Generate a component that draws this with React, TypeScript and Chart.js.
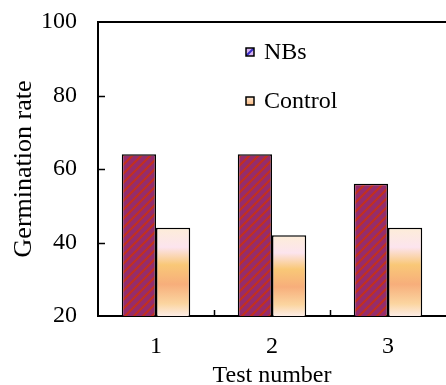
import React, { useEffect, useRef } from 'react';
import { Chart, registerables } from 'chart.js';

Chart.register(...registerables);

const categories = ['1', '2', '3'];
const nbsValues = [64, 64, 56];
const controlValues = [44, 42, 44];
const seriesLabels = ['NBs', 'Control'];
const yMin = 20;
const yMax = 100;
const yStep = 20;
const xTitle = 'Test number';
const yTitle = 'Germination rate';

const FONT = "'Liberation Serif', 'Times New Roman', serif";
const FS = 24;

function makeStripePattern(bg: string, fg: string, size: number, lw: number): CanvasPattern | string {
  const c = document.createElement('canvas');
  c.width = size;
  c.height = size;
  const x = c.getContext('2d');
  if (!x) return bg;
  x.fillStyle = bg;
  x.fillRect(0, 0, size, size);
  x.strokeStyle = fg;
  x.lineWidth = lw;
  x.beginPath();
  x.moveTo(-size / 2, size / 2);
  x.lineTo(size / 2, -size / 2);
  x.moveTo(0, size);
  x.lineTo(size, 0);
  x.moveTo(size / 2, size * 1.5);
  x.lineTo(size * 1.5, size / 2);
  x.stroke();
  const p = x.createPattern(c, 'repeat');
  return p || bg;
}

const gradStops: [number, string][] = [
  [0, '#FDEDD8'],
  [0.22, '#FCE4EE'],
  [0.42, '#F9C877'],
  [0.64, '#F7AE7B'],
  [0.86, '#FBD5A0'],
  [1, '#FDEDE6'],
];

export default function App() {
  const ref = useRef<HTMLCanvasElement | null>(null);

  useEffect(() => {
    if (!ref.current) return;
    const stripe = makeStripePattern('#952C6C', '#C2301F', 9, 2.2);

    const controlBg = (ctx: any) => {
      const chart = ctx.chart;
      const scales = chart.scales;
      if (!chart.chartArea || ctx.type !== 'data' || !scales || !scales.y) return '#F9C98A';
      const top = scales.y.getPixelForValue(ctx.raw);
      const bottom = scales.y.getPixelForValue(yMin);
      if (!isFinite(top) || !isFinite(bottom) || bottom <= top) return '#F9C98A';
      const g = chart.ctx.createLinearGradient(0, top, 0, bottom);
      gradStops.forEach(([o, c]) => g.addColorStop(o, c));
      return g;
    };

    const framePlugin = {
      id: 'frame',
      afterDraw(chart: any) {
        const { ctx, chartArea, scales } = chart;
        const { left, right, top, bottom } = chartArea;
        ctx.save();
        ctx.strokeStyle = '#000';
        ctx.lineWidth = 2;
        ctx.beginPath();
        ctx.moveTo(left - 1, top);
        ctx.lineTo(right + 1, top);
        ctx.stroke();
        ctx.lineWidth = 1.5;
        ctx.beginPath();
        for (let v = yMin + yStep; v < yMax; v += yStep) {
          const y = Math.round(scales.y.getPixelForValue(v)) + 0.5;
          ctx.moveTo(left, y);
          ctx.lineTo(left + 7, y);
        }
        const n = categories.length;
        const w = (right - left) / n;
        for (let i = 1; i < n; i++) {
          const x = Math.round(left + i * w) + 0.5;
          ctx.moveTo(x, bottom);
          ctx.lineTo(x, bottom - 6);
        }
        ctx.stroke();
        ctx.restore();
      },
    };

    const legendPlugin = {
      id: 'customLegend',
      afterDraw(chart: any) {
        const { ctx } = chart;
        ctx.save();
        const items = [
          { label: chart.data.datasets[0].label, y: 52, kind: 0 },
          { label: chart.data.datasets[1].label, y: 101, kind: 1 },
        ];
        items.forEach((it) => {
          const sx = 246;
          const s = 8;
          const sy = it.y - s / 2;
          if (it.kind === 0) {
            ctx.fillStyle = '#D8B4F2';
            ctx.fillRect(sx, sy, s, s);
            ctx.save();
            ctx.beginPath();
            ctx.rect(sx, sy, s, s);
            ctx.clip();
            ctx.strokeStyle = '#3A2FC8';
            ctx.lineWidth = 2;
            ctx.beginPath();
            ctx.moveTo(sx, sy + s);
            ctx.lineTo(sx + s, sy);
            ctx.moveTo(sx - 4, sy + 4);
            ctx.lineTo(sx + 4, sy - 4);
            ctx.moveTo(sx + 4, sy + s + 4);
            ctx.lineTo(sx + s + 4, sy + 4);
            ctx.stroke();
            ctx.restore();
          } else {
            const g = ctx.createLinearGradient(0, sy, 0, sy + s);
            g.addColorStop(0, '#FDE6D0');
            g.addColorStop(1, '#F8B880');
            ctx.fillStyle = g;
            ctx.fillRect(sx, sy, s, s);
          }
          ctx.strokeStyle = '#000';
          ctx.lineWidth = 1.5;
          ctx.strokeRect(sx, sy, s, s);
          ctx.fillStyle = '#000';
          ctx.font = `${FS}px ${FONT}`;
          ctx.textBaseline = 'middle';
          ctx.textAlign = 'left';
          ctx.fillText(it.label, 264, it.y + 1);
        });
        ctx.restore();
      },
    };

    const chart = new Chart(ref.current, {
      type: 'bar',
      data: {
        labels: categories,
        datasets: [
          {
            label: seriesLabels[0],
            data: nbsValues,
            backgroundColor: stripe as any,
            borderColor: '#000',
            borderWidth: 1.5,
            borderSkipped: false,
            categoryPercentage: 0.59,
            barPercentage: 1,
          },
          {
            label: seriesLabels[1],
            data: controlValues,
            backgroundColor: controlBg as any,
            borderColor: '#000',
            borderWidth: 1.5,
            borderSkipped: false,
            categoryPercentage: 0.59,
            barPercentage: 1,
          },
        ],
      },
      options: {
        animation: false,
        responsive: true,
        maintainAspectRatio: false,
        layout: { padding: { top: 22, right: 0, left: 0, bottom: 0 } },
        plugins: {
          legend: { display: false },
          tooltip: { enabled: false },
        },
        scales: {
          x: {
            grid: { display: true, drawOnChartArea: false, drawTicks: false, color: 'rgba(0,0,0,0)' },
            border: { display: true, color: '#000', width: 2 },
            ticks: { color: '#000', font: { family: FONT, size: FS }, padding: 16 },
            title: { display: true, text: xTitle, color: '#000', font: { family: FONT, size: FS }, padding: { top: 0, bottom: -5 } },
            afterFit: (scale: any) => {
              scale.height = 69;
              scale.paddingLeft = 0;
              scale.paddingRight = 0;
            },
          },
          y: {
            min: yMin,
            max: yMax,
            ticks: { stepSize: yStep, color: '#000', font: { family: FONT, size: FS }, padding: 21 },
            grid: { display: true, drawOnChartArea: false, drawTicks: false, color: 'rgba(0,0,0,0)' },
            border: { display: true, color: '#000', width: 2 },
            title: { display: true, text: yTitle, color: '#000', font: { family: FONT, size: 26 }, padding: 9 },
            afterFit: (scale: any) => {
              scale.width = 98;
              scale.paddingTop = 0;
              scale.paddingBottom = 0;
            },
          },
        },
      },
      plugins: [framePlugin, legendPlugin],
    });
    return () => chart.destroy();
  }, []);

  return (
    <div style={{ position: 'fixed', left: 0, top: 0, width: 446, height: 385, background: '#fff' }}>
      <canvas ref={ref} />
    </div>
  );
}
